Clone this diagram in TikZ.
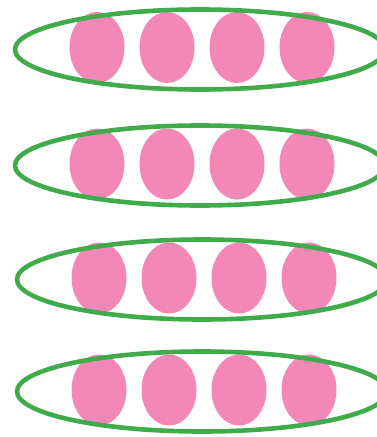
\documentclass[tikz,border=0pt]{standalone}
\usepackage{tikz}
\usetikzlibrary{shapes.geometric}
\definecolor{podG}{HTML}{3FAB4A}
\definecolor{seedP}{HTML}{F387B6}

\begin{document}
\begin{tikzpicture}[x=1pt,y=-1pt,
  seed/.style={ellipse,fill=seedP,inner sep=0pt,minimum width=55pt,minimum height=71pt},
  pod/.style={ellipse,draw=podG,line width=4.6pt,inner sep=0pt,minimum width=370pt,minimum height=80pt}
]
\useasboundingbox (0,0) rectangle (377,437);
% Rows: pod centre, seed row height, first seed x
\foreach \r/\px/\py/\sy/\sx in {1/200/49.5/47.5/97, 2/200/165.5/164/97,
                                3/202/279.5/278/99, 4/202/391.5/390/99}{
  \foreach \k in {1,...,4}
    \node[seed] (s\r\k) at ({\sx+70*(\k-1)},\sy) {};
  \node[pod] (p\r) at (\px,\py) {};
}
\end{tikzpicture}
\end{document}
